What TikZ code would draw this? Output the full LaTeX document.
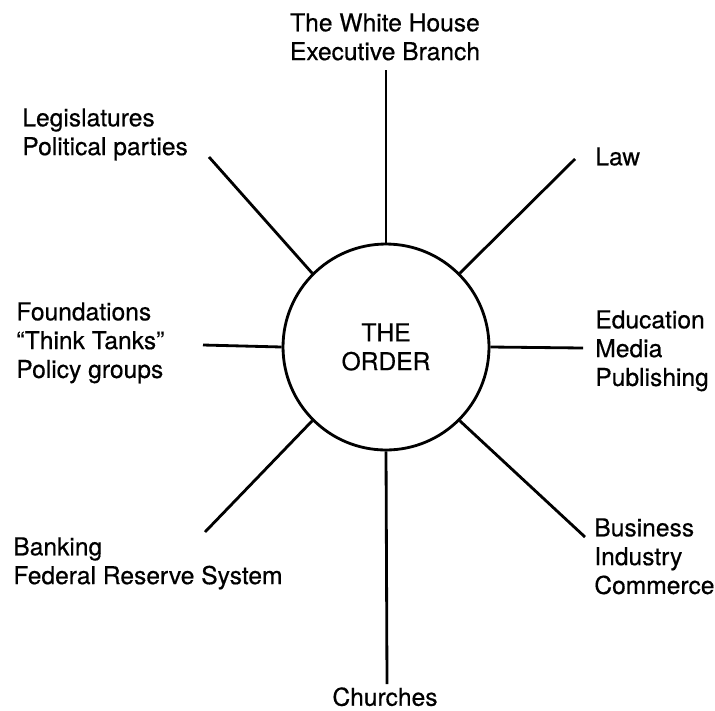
\documentclass[tikz,border=0pt]{standalone}
\usepackage{fontspec}
\setmainfont{TeX Gyre Heros}[FakeBold=0.5]
\usetikzlibrary{positioning}

\begin{document}
\begin{tikzpicture}[x=0.02cm,y=-0.02cm,font={\fontsize{14}{16.4}\selectfont}]
\tikzstyle{order node}=[circle,draw,line width=1.6pt,minimum size=4.12cm,inner sep=0,align=center]
\tikzstyle{left text}=[inner sep=0,anchor=north west,align=left]
\tikzstyle{mid text}=[inner sep=0,anchor=north,align=center]
\tikzstyle{spoke}=[line width=1.6pt]
\useasboundingbox (0,0) rectangle (715,710);
\node(order)[order node] at (386,347) {THE\\ORDER};
% labels round the circle
\node(house)[mid text] at (385,13) {The White House\\Executive Branch};
\node(law)[left text] at (595,147) {Law};
\node(edu)[left text] at (595,310) {Education\\Media\\Publishing};
\node(biz)[left text] at (594,518) {Business\\Industry\\Commerce};
\node(church)[mid text] at (385,687) {Churches};
\node(bank)[left text] at (13,537) {Banking\\Federal Reserve System};
\node(found)[left text] at (16,302) {Foundations\\``Think Tanks''\\Policy groups};
\node(legis)[left text] at (22,108) {Legislatures\\Political parties};
% free ends of the spokes
\coordinate(house end) at (386,70);
\coordinate(law end) at (575,159);
\coordinate(edu end) at (583,348);
\coordinate(biz end) at (585,537);
\coordinate(church end) at (387,684);
\coordinate(bank end) at (205,532);
\coordinate(found end) at (203,345);
\coordinate(legis end) at (209,157);
\draw[spoke] (order.90) -- (house end);
\draw[spoke] (order.45) -- (law end);
\draw[spoke] (order.0) -- (edu end);
\draw[spoke] (order.-45) -- (biz end);
\draw[spoke] (order.-90) -- (church end);
\draw[spoke] (order.-135) -- (bank end);
\draw[spoke] (order.180) -- (found end);
\draw[spoke] (order.135) -- (legis end);
\end{tikzpicture}
\end{document}
